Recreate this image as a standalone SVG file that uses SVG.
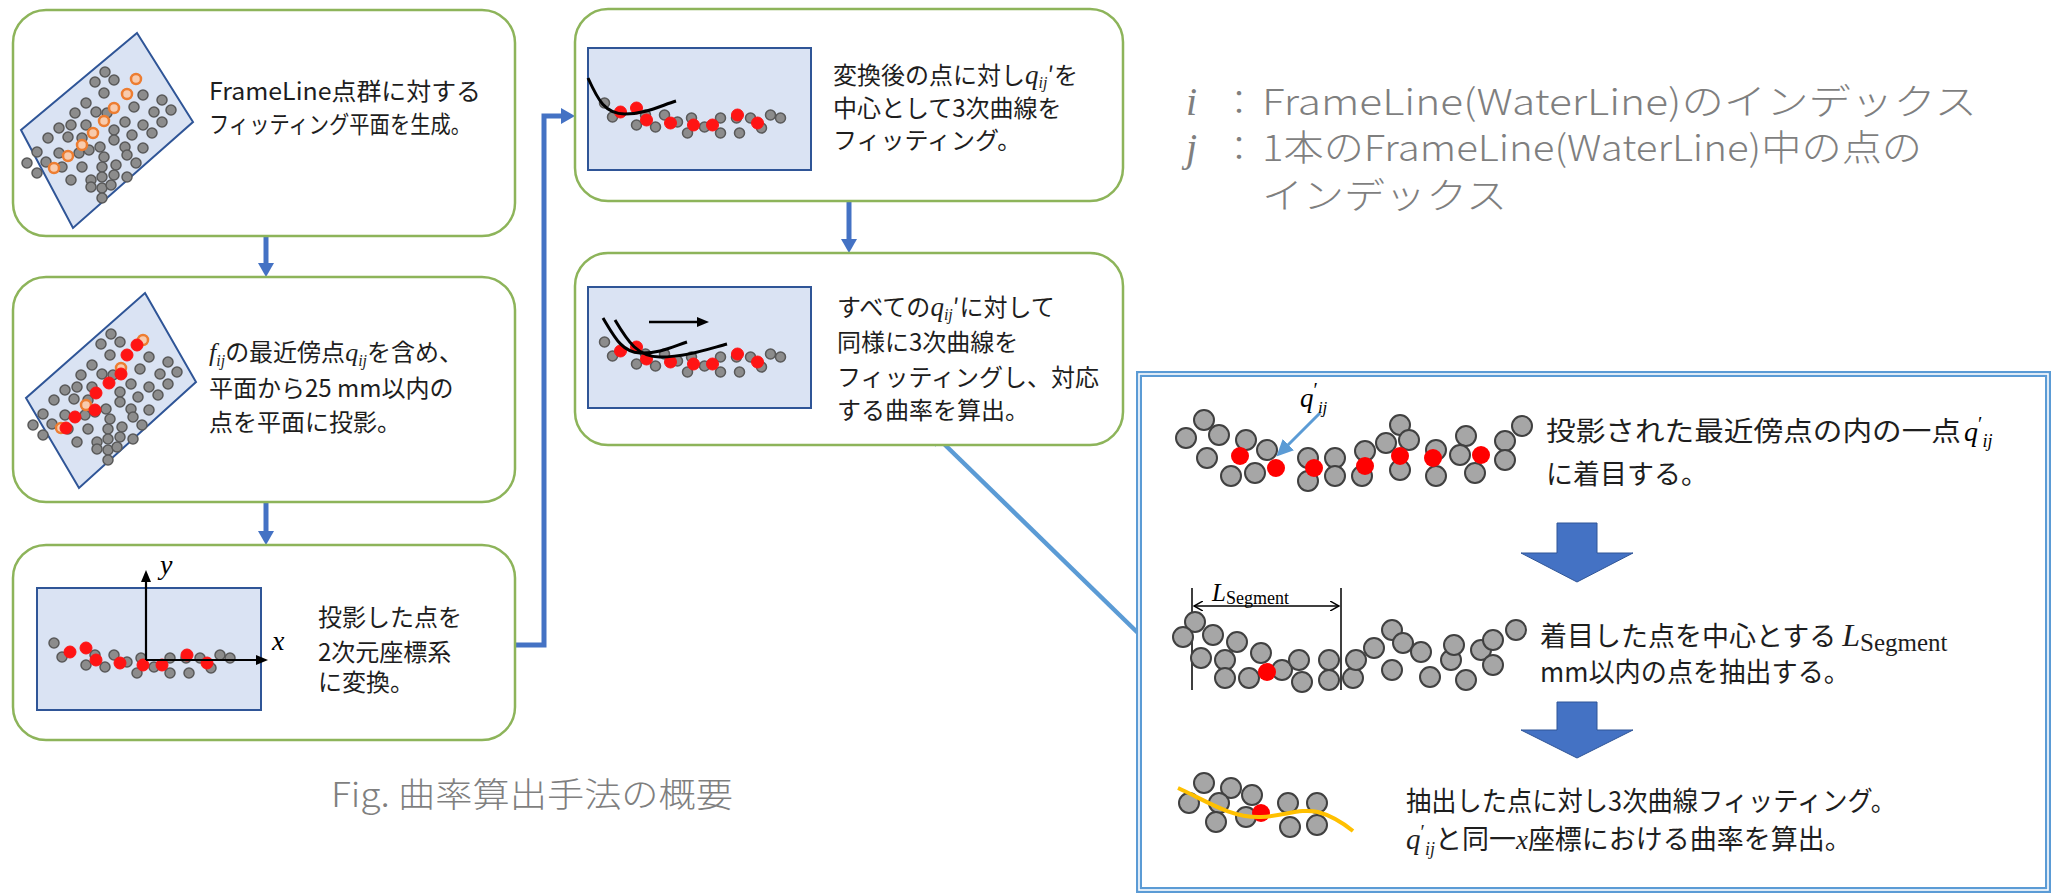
<svg xmlns="http://www.w3.org/2000/svg" width="2062" height="893" viewBox="0 0 2062 893">
<style>
  .box{fill:#ffffff;stroke:#8db45a;stroke-width:2.5}
  .pane{fill:#dae3f3;stroke:#2f5597;stroke-width:2}
  .g{fill:#8c8c8c;stroke:#595959;stroke-width:1.5}
  .r{fill:#ff1414;stroke:#ff1414;stroke-width:1}
  .o{fill:#f8cbad;stroke:#ed7d31;stroke-width:2.5}
  .gp{fill:#a6a6a6;stroke:#404040;stroke-width:2}
  .rp{fill:#ff0000}
  .t{font-family:"Noto Sans CJK JP","Noto Sans",sans-serif;font-size:24px;fill:#1e1e1e}
  .tp{font-family:"Noto Sans CJK JP","Noto Sans",sans-serif;font-size:27px;fill:#1e1e1e}
  .m{font-family:"Liberation Serif",serif;font-style:italic}
  .serif{font-family:"Liberation Serif",serif}
  .lg{font-family:"Noto Sans CJK JP","Noto Sans",sans-serif;font-weight:300;fill:#7f7f7f}
  .flow{fill:none;stroke:#4472c4;stroke-width:5}
  .curve{fill:none;stroke:#000;stroke-width:3}
  .ax{fill:none;stroke:#000;stroke-width:2.2}
  .big{fill:#4472c4;stroke:#2f5597;stroke-width:1}
</style>
<defs>
  <marker id="flowHead" markerUnits="userSpaceOnUse" markerWidth="16" markerHeight="16" refX="2" refY="8" orient="auto">
    <path d="M0,0 L14,8 L0,16 z" fill="#4472c4"/>
  </marker>
  <marker id="skyHead" markerUnits="userSpaceOnUse" markerWidth="18" markerHeight="16" refX="2" refY="8" orient="auto">
    <path d="M0,0 L17,8 L0,16 z" fill="#5b9bd5"/>
  </marker>
  <marker id="blackHead" markerUnits="userSpaceOnUse" markerWidth="12" markerHeight="10" refX="1" refY="5" orient="auto">
    <path d="M0,0 L12,5 L0,10 z" fill="#000"/>
  </marker>
  <marker id="dimHead" markerUnits="userSpaceOnUse" markerWidth="10" markerHeight="10" refX="9" refY="5" orient="auto-start-reverse">
    <path d="M0,0 L9,5 L0,10" fill="none" stroke="#000" stroke-width="1.5"/>
  </marker>

  <!-- tilted point cloud on the fitted plane -->
  <g id="tiltCloud">
    <circle class="g" cx="105" cy="72" r="5"/><circle class="g" cx="95" cy="82" r="5"/>
    <circle class="g" cx="114" cy="80" r="5"/><circle class="g" cx="104" cy="93" r="5"/>
    <circle class="g" cx="143" cy="95" r="5"/><circle class="g" cx="134" cy="107" r="5"/>
    <circle class="g" cx="86" cy="103" r="5"/><circle class="g" cx="96" cy="112" r="5"/>
    <circle class="g" cx="75" cy="113" r="5"/><circle class="g" cx="107" cy="113" r="5"/>
    <circle class="g" cx="125" cy="122" r="5"/><circle class="g" cx="114" cy="130" r="5"/>
    <circle class="g" cx="154" cy="112" r="5"/><circle class="g" cx="162" cy="100" r="5"/>
    <circle class="g" cx="171" cy="110" r="5"/><circle class="g" cx="162" cy="122" r="5"/>
    <circle class="g" cx="143" cy="125" r="5"/><circle class="g" cx="152" cy="133" r="5"/>
    <circle class="g" cx="132" cy="135" r="5"/><circle class="g" cx="86" cy="125" r="5"/>
    <circle class="g" cx="71" cy="125" r="5"/><circle class="g" cx="59" cy="128" r="5"/>
    <circle class="g" cx="48" cy="138" r="5"/><circle class="g" cx="68" cy="137" r="5"/>
    <circle class="g" cx="82" cy="138" r="5"/><circle class="g" cx="114" cy="140" r="5"/>
    <circle class="g" cx="100" cy="147" r="5"/><circle class="g" cx="125" cy="147" r="5"/>
    <circle class="g" cx="143" cy="148" r="5"/><circle class="g" cx="37" cy="152" r="5"/>
    <circle class="g" cx="59" cy="153" r="5"/><circle class="g" cx="79" cy="153" r="5"/>
    <circle class="g" cx="89" cy="150" r="5"/><circle class="g" cx="104" cy="157" r="5"/>
    <circle class="g" cx="127" cy="155" r="5"/><circle class="g" cx="136" cy="163" r="5"/>
    <circle class="g" cx="27" cy="163" r="5"/><circle class="g" cx="46" cy="162" r="5"/>
    <circle class="g" cx="62" cy="167" r="5"/><circle class="g" cx="82" cy="167" r="5"/>
    <circle class="g" cx="102" cy="167" r="5"/><circle class="g" cx="116" cy="165" r="5"/>
    <circle class="g" cx="37" cy="173" r="5"/><circle class="g" cx="71" cy="180" r="5"/>
    <circle class="g" cx="91" cy="180" r="5"/><circle class="g" cx="102" cy="177" r="5"/>
    <circle class="g" cx="114" cy="175" r="5"/><circle class="g" cx="127" cy="177" r="5"/>
    <circle class="g" cx="91" cy="187" r="5"/><circle class="g" cx="102" cy="188" r="5"/>
    <circle class="g" cx="111" cy="185" r="5"/><circle class="g" cx="102" cy="198" r="5"/>
  </g>

  <!-- projected points laid along the x axis -->
  <g id="lineCloud">
    <circle class="g" cx="54" cy="643" r="5"/><circle class="g" cx="62" cy="657" r="5"/>
    <circle class="g" cx="86" cy="665" r="5"/><circle class="g" cx="95" cy="655" r="5"/>
    <circle class="g" cx="105" cy="667" r="5"/><circle class="g" cx="114" cy="655" r="5"/>
    <circle class="g" cx="127" cy="662" r="5"/><circle class="g" cx="137" cy="673" r="5"/>
    <circle class="g" cx="141" cy="658" r="5"/><circle class="g" cx="154" cy="667" r="5"/>
    <circle class="g" cx="170" cy="658" r="5"/><circle class="g" cx="170" cy="673" r="5"/>
    <circle class="g" cx="189" cy="673" r="5"/><circle class="g" cx="186" cy="658" r="5"/>
    <circle class="g" cx="200" cy="658" r="5"/><circle class="g" cx="211" cy="668" r="5"/>
    <circle class="g" cx="220" cy="655" r="5"/><circle class="g" cx="230" cy="658" r="5"/>
    <circle class="r" cx="70" cy="652" r="6"/><circle class="r" cx="86" cy="648" r="6"/>
    <circle class="r" cx="96" cy="660" r="6"/><circle class="r" cx="120" cy="663" r="6"/>
    <circle class="r" cx="143" cy="665" r="6"/><circle class="r" cx="162" cy="665" r="6"/>
    <circle class="r" cx="187" cy="655" r="6"/><circle class="r" cx="207" cy="663" r="6"/>
  </g>
</defs>

<rect width="2062" height="893" fill="#ffffff"/>

<!-- connectors -->
<g id="connectors">
  <path class="flow" d="M266,236 V265" marker-end="url(#flowHead)"/>
  <path class="flow" d="M266,502 V533" marker-end="url(#flowHead)"/>
  <path class="flow" d="M515,645 H544 V116 H563" marker-end="url(#flowHead)"/>
  <path class="flow" d="M849,201 V241" marker-end="url(#flowHead)"/>
  <path d="M1138,633 L940,440" fill="none" stroke="#5b9bd5" stroke-width="4.5" marker-end="url(#skyHead)"/>
</g>

<!-- step 1: fitting plane -->
<g id="step1">
  <rect class="box" x="13" y="10" width="502" height="226" rx="33"/>
  <polygon class="pane" points="137,33 193,122 73,228 21,130"/>
  <use href="#tiltCloud"/>
  <circle class="o" cx="136" cy="79" r="5"/><circle class="o" cx="127" cy="94" r="5"/>
  <circle class="o" cx="114" cy="108" r="5"/><circle class="o" cx="104" cy="121" r="5"/>
  <circle class="o" cx="93" cy="133" r="5"/><circle class="o" cx="82" cy="145" r="5"/>
  <circle class="o" cx="68" cy="156" r="5"/><circle class="o" cx="54" cy="168" r="5"/>
  <text class="t" x="209" y="100" textLength="272" lengthAdjust="spacingAndGlyphs">FrameLine点群に対する</text>
  <text class="t" x="209" y="133" textLength="262" lengthAdjust="spacingAndGlyphs">フィッティング平面を生成。</text>
</g>

<!-- step 2: nearest points projected -->
<g id="step2">
  <rect class="box" x="13" y="277" width="502" height="225" rx="33"/>
  <polygon class="pane" points="145,293 196,382 79,488 26,398"/>
  <use href="#tiltCloud" x="6" y="262"/>
  <circle class="o" cx="143" cy="340" r="5"/><circle class="o" cx="121" cy="368" r="5"/>
  <circle class="o" cx="86" cy="405" r="5"/><circle class="o" cx="61" cy="428" r="5"/>
  <circle class="r" cx="137" cy="345" r="6"/><circle class="r" cx="127" cy="355" r="6"/>
  <circle class="r" cx="121" cy="374" r="6"/><circle class="r" cx="109" cy="383" r="6"/>
  <circle class="r" cx="96" cy="393" r="6"/><circle class="r" cx="95" cy="410" r="6"/>
  <circle class="r" cx="75" cy="417" r="6"/><circle class="r" cx="66" cy="428" r="6"/>
  <text class="t" x="209" y="361"><tspan class="m" font-size="26">f</tspan><tspan class="m" font-size="16" dy="5">ij</tspan><tspan dy="-5">の最近傍点</tspan><tspan class="m" font-size="26">q</tspan><tspan class="m" font-size="16" dy="5">ij</tspan><tspan dy="-5">を含め、</tspan></text>
  <text class="t" x="209" y="397">平面から25 mm以内の</text>
  <text class="t" x="209" y="431">点を平面に投影。</text>
</g>

<!-- step 3: 2D coordinates -->
<g id="step3">
  <rect class="box" x="13" y="545" width="502" height="195" rx="33"/>
  <rect class="pane" x="37" y="588" width="224" height="122"/>
  <use href="#lineCloud"/>
  <path class="ax" d="M146,660 V581" marker-end="url(#blackHead)"/>
  <path class="ax" d="M146,660 H257" marker-end="url(#blackHead)"/>
  <text class="m" x="160" y="574" font-size="28">y</text>
  <text class="m" x="272" y="650" font-size="28">x</text>
  <text class="t" x="318" y="626">投影した点を</text>
  <text class="t" x="318" y="661">2次元座標系</text>
  <text class="t" x="318" y="691">に変換。</text>
</g>

<!-- step 4: cubic fit around one point -->
<g id="step4">
  <rect class="box" x="575" y="9" width="548" height="192" rx="33"/>
  <rect class="pane" x="588" y="48" width="223" height="122"/>
  <use href="#lineCloud" x="550.5" y="-540"/>
  <path class="curve" d="M588,78 C598,100 605,114 625,114 C645,114 660,106 676,101"/>
  <text class="t" x="833" y="84">変換後の点に対し<tspan class="m" font-size="27">q</tspan><tspan class="m" font-size="16" dy="4">ij</tspan><tspan dy="-4">′を</tspan></text>
  <text class="t" x="833" y="117">中心として3次曲線を</text>
  <text class="t" x="833" y="149">フィッティング。</text>
</g>

<!-- step 5: sweep over all points -->
<g id="step5">
  <rect class="box" x="575" y="253" width="548" height="192" rx="33"/>
  <rect class="pane" x="588" y="287" width="223" height="121"/>
  <use href="#lineCloud" x="550.5" y="-301"/>
  <path class="curve" d="M603,318 C615,338 622,352 640,353 C658,354 672,347 687,342"/>
  <path class="curve" d="M615,320 C628,342 638,357 660,357 C685,357 705,350 727,344"/>
  <path d="M649,322 H698" stroke="#000" stroke-width="2.5" marker-end="url(#blackHead)"/>
  <text class="t" x="837" y="316">すべての<tspan class="m" font-size="27">q</tspan><tspan class="m" font-size="16" dy="4">ij</tspan><tspan dy="-4">′に対して</tspan></text>
  <text class="t" x="837" y="351">同様に3次曲線を</text>
  <text class="t" x="837" y="386">フィッティングし、対応</text>
  <text class="t" x="837" y="419">する曲率を算出。</text>
</g>

<!-- caption -->
<g id="caption">
  <text class="lg" x="331" y="807" font-size="34" textLength="402" lengthAdjust="spacingAndGlyphs">Fig. 曲率算出手法の概要</text>
</g>

<!-- index legend -->
<g id="legend">
  <text class="m" x="1186" y="115" font-size="40" fill="#7f7f7f">i</text>
  <text class="lg" x="1222" y="115" font-size="34">：</text>
  <text class="lg" x="1262" y="115" font-size="36" textLength="715" lengthAdjust="spacingAndGlyphs">FrameLine(WaterLine)のインデックス</text>
  <text class="m" x="1186" y="161" font-size="40" fill="#7f7f7f">j</text>
  <text class="lg" x="1222" y="161" font-size="34">：</text>
  <text class="lg" x="1262" y="161" font-size="36" textLength="660" lengthAdjust="spacingAndGlyphs">1本のFrameLine(WaterLine)中の点の</text>
  <text class="lg" x="1262" y="209" font-size="36" textLength="245" lengthAdjust="spacingAndGlyphs">インデックス</text>
</g>

<!-- detail panel: curvature at one point -->
<g id="detail">
  <rect x="1139" y="374" width="909" height="516" fill="#ffffff" stroke="#5b9bd5" stroke-width="6"/>
  <rect x="1139" y="374" width="909" height="516" fill="none" stroke="#ffffff" stroke-width="1.6"/>

  <!-- selected point -->
  <g id="detail-select">
    <g transform="translate(0,-17)">
      <circle class="gp" cx="1204" cy="437" r="10"/><circle class="gp" cx="1186" cy="455" r="10"/>
      <circle class="gp" cx="1219" cy="452" r="10"/><circle class="gp" cx="1207" cy="475" r="10"/>
      <circle class="gp" cx="1246" cy="457" r="10"/><circle class="gp" cx="1267" cy="467" r="10"/>
      <circle class="gp" cx="1231" cy="493" r="10"/><circle class="gp" cx="1255" cy="490" r="10"/>
      <circle class="gp" cx="1308" cy="475" r="10"/><circle class="gp" cx="1335" cy="475" r="10"/>
      <circle class="gp" cx="1308" cy="498" r="10"/><circle class="gp" cx="1335" cy="493" r="10"/>
      <circle class="gp" cx="1365" cy="468" r="10"/><circle class="gp" cx="1386" cy="460" r="10"/>
      <circle class="gp" cx="1400" cy="442" r="10"/><circle class="gp" cx="1409" cy="457" r="10"/>
      <circle class="gp" cx="1362" cy="493" r="10"/><circle class="gp" cx="1400" cy="487" r="10"/>
      <circle class="gp" cx="1436" cy="467" r="10"/><circle class="gp" cx="1436" cy="493" r="10"/>
      <circle class="gp" cx="1466" cy="453" r="10"/><circle class="gp" cx="1460" cy="472" r="10"/>
      <circle class="gp" cx="1505" cy="458" r="10"/><circle class="gp" cx="1505" cy="477" r="10"/>
      <circle class="gp" cx="1475" cy="490" r="10"/><circle class="gp" cx="1522" cy="443" r="10"/>
      <circle class="rp" cx="1240" cy="473" r="9"/><circle class="rp" cx="1276" cy="485" r="9"/>
      <circle class="rp" cx="1314" cy="485" r="9"/><circle class="rp" cx="1365" cy="483" r="9"/>
      <circle class="rp" cx="1400" cy="473" r="9"/><circle class="rp" cx="1433" cy="475" r="9"/>
      <circle class="rp" cx="1481" cy="472" r="9"/>
      <path d="M1320,430 L1287,463" fill="none" stroke="#5b9bd5" stroke-width="3" marker-end="url(#skyHead)"/>
    </g>
    <text x="1300" y="407" font-size="27"><tspan class="m">q</tspan><tspan class="serif" font-size="20" dy="-10">′</tspan><tspan class="m" font-size="17" dy="16">ij</tspan></text>
    <text class="tp" x="1546" y="441" textLength="415" lengthAdjust="spacingAndGlyphs">投影された最近傍点の内の一点</text>
    <text x="1964" y="441" font-size="28"><tspan class="m">q</tspan><tspan class="serif" font-size="20" dy="-10">′</tspan><tspan class="m" font-size="18" dy="16">ij</tspan></text>
    <text class="tp" x="1546" y="484">に着目する。</text>
  </g>

  <path class="big" d="M1557,523 H1597 V553 H1633 L1577,582 L1521,553 H1557 z"/>

  <!-- segment extraction -->
  <g id="detail-segment">
    <path d="M1192,588 V690 M1341,588 V690" stroke="#000" stroke-width="1.5"/>
    <path d="M1194,606 H1339" stroke="#000" stroke-width="1.5" marker-start="url(#dimHead)" marker-end="url(#dimHead)"/>
    <text x="1212" y="601"><tspan class="m" font-size="25">L</tspan><tspan class="serif" font-size="18" dy="3">Segment</tspan></text>
    <circle class="gp" cx="1195" cy="622" r="10"/><circle class="gp" cx="1183" cy="637" r="10"/>
    <circle class="gp" cx="1213" cy="635" r="10"/><circle class="gp" cx="1237" cy="642" r="10"/>
    <circle class="gp" cx="1201" cy="658" r="10"/><circle class="gp" cx="1225" cy="660" r="10"/>
    <circle class="gp" cx="1225" cy="678" r="10"/><circle class="gp" cx="1249" cy="678" r="10"/>
    <circle class="gp" cx="1261" cy="653" r="10"/><circle class="gp" cx="1282" cy="670" r="10"/>
    <circle class="gp" cx="1302" cy="682" r="10"/><circle class="gp" cx="1299" cy="660" r="10"/>
    <circle class="gp" cx="1329" cy="660" r="10"/><circle class="gp" cx="1329" cy="680" r="10"/>
    <circle class="gp" cx="1353" cy="678" r="10"/><circle class="gp" cx="1356" cy="660" r="10"/>
    <circle class="gp" cx="1374" cy="648" r="10"/><circle class="gp" cx="1392" cy="630" r="10"/>
    <circle class="gp" cx="1403" cy="643" r="10"/><circle class="gp" cx="1392" cy="670" r="10"/>
    <circle class="gp" cx="1421" cy="652" r="10"/><circle class="gp" cx="1430" cy="677" r="10"/>
    <circle class="gp" cx="1451" cy="660" r="10"/><circle class="gp" cx="1454" cy="645" r="10"/>
    <circle class="gp" cx="1466" cy="680" r="10"/><circle class="gp" cx="1481" cy="650" r="10"/>
    <circle class="gp" cx="1493" cy="665" r="10"/><circle class="gp" cx="1493" cy="640" r="10"/>
    <circle class="gp" cx="1516" cy="630" r="10"/>
    <circle class="rp" cx="1267" cy="672" r="9"/>
    <text class="tp" x="1540" y="646">着目した点を中心とする <tspan class="m" font-size="32">L</tspan><tspan class="serif" font-size="25" dy="5">Segment</tspan></text>
    <text class="tp" x="1540" y="682" textLength="310" lengthAdjust="spacingAndGlyphs">mm以内の点を抽出する。</text>
  </g>

  <path class="big" d="M1557,702 H1597 V730 H1633 L1577,758 L1521,730 H1557 z"/>

  <!-- local cubic fit -->
  <g id="detail-fit">
    <circle class="gp" cx="1204" cy="783" r="10"/><circle class="gp" cx="1231" cy="788" r="10"/>
    <circle class="gp" cx="1252" cy="795" r="10"/><circle class="gp" cx="1189" cy="803" r="10"/>
    <circle class="gp" cx="1219" cy="803" r="10"/><circle class="gp" cx="1288" cy="803" r="10"/>
    <circle class="gp" cx="1317" cy="803" r="10"/><circle class="gp" cx="1216" cy="822" r="10"/>
    <circle class="gp" cx="1246" cy="817" r="10"/><circle class="gp" cx="1290" cy="827" r="10"/>
    <circle class="gp" cx="1317" cy="825" r="10"/>
    <circle class="rp" cx="1261" cy="813" r="9"/>
    <path d="M1178,788 C1205,800 1230,818 1261,817 C1285,816 1300,808 1318,812 C1333,816 1343,823 1353,831" fill="none" stroke="#ffc000" stroke-width="4"/>
    <text class="tp" x="1406" y="811" textLength="490" lengthAdjust="spacingAndGlyphs">抽出した点に対し3次曲線フィッティング。</text>
    <text class="tp" x="1406" y="849" font-size="26"><tspan class="m" font-size="29">q</tspan><tspan class="serif" font-size="20" dy="-10">′</tspan><tspan class="m" font-size="18" dy="16">ij</tspan><tspan dy="-6">と同一</tspan><tspan class="m">x</tspan><tspan>座標における曲率を算出。</tspan></text>
  </g>
</g>
</svg>
